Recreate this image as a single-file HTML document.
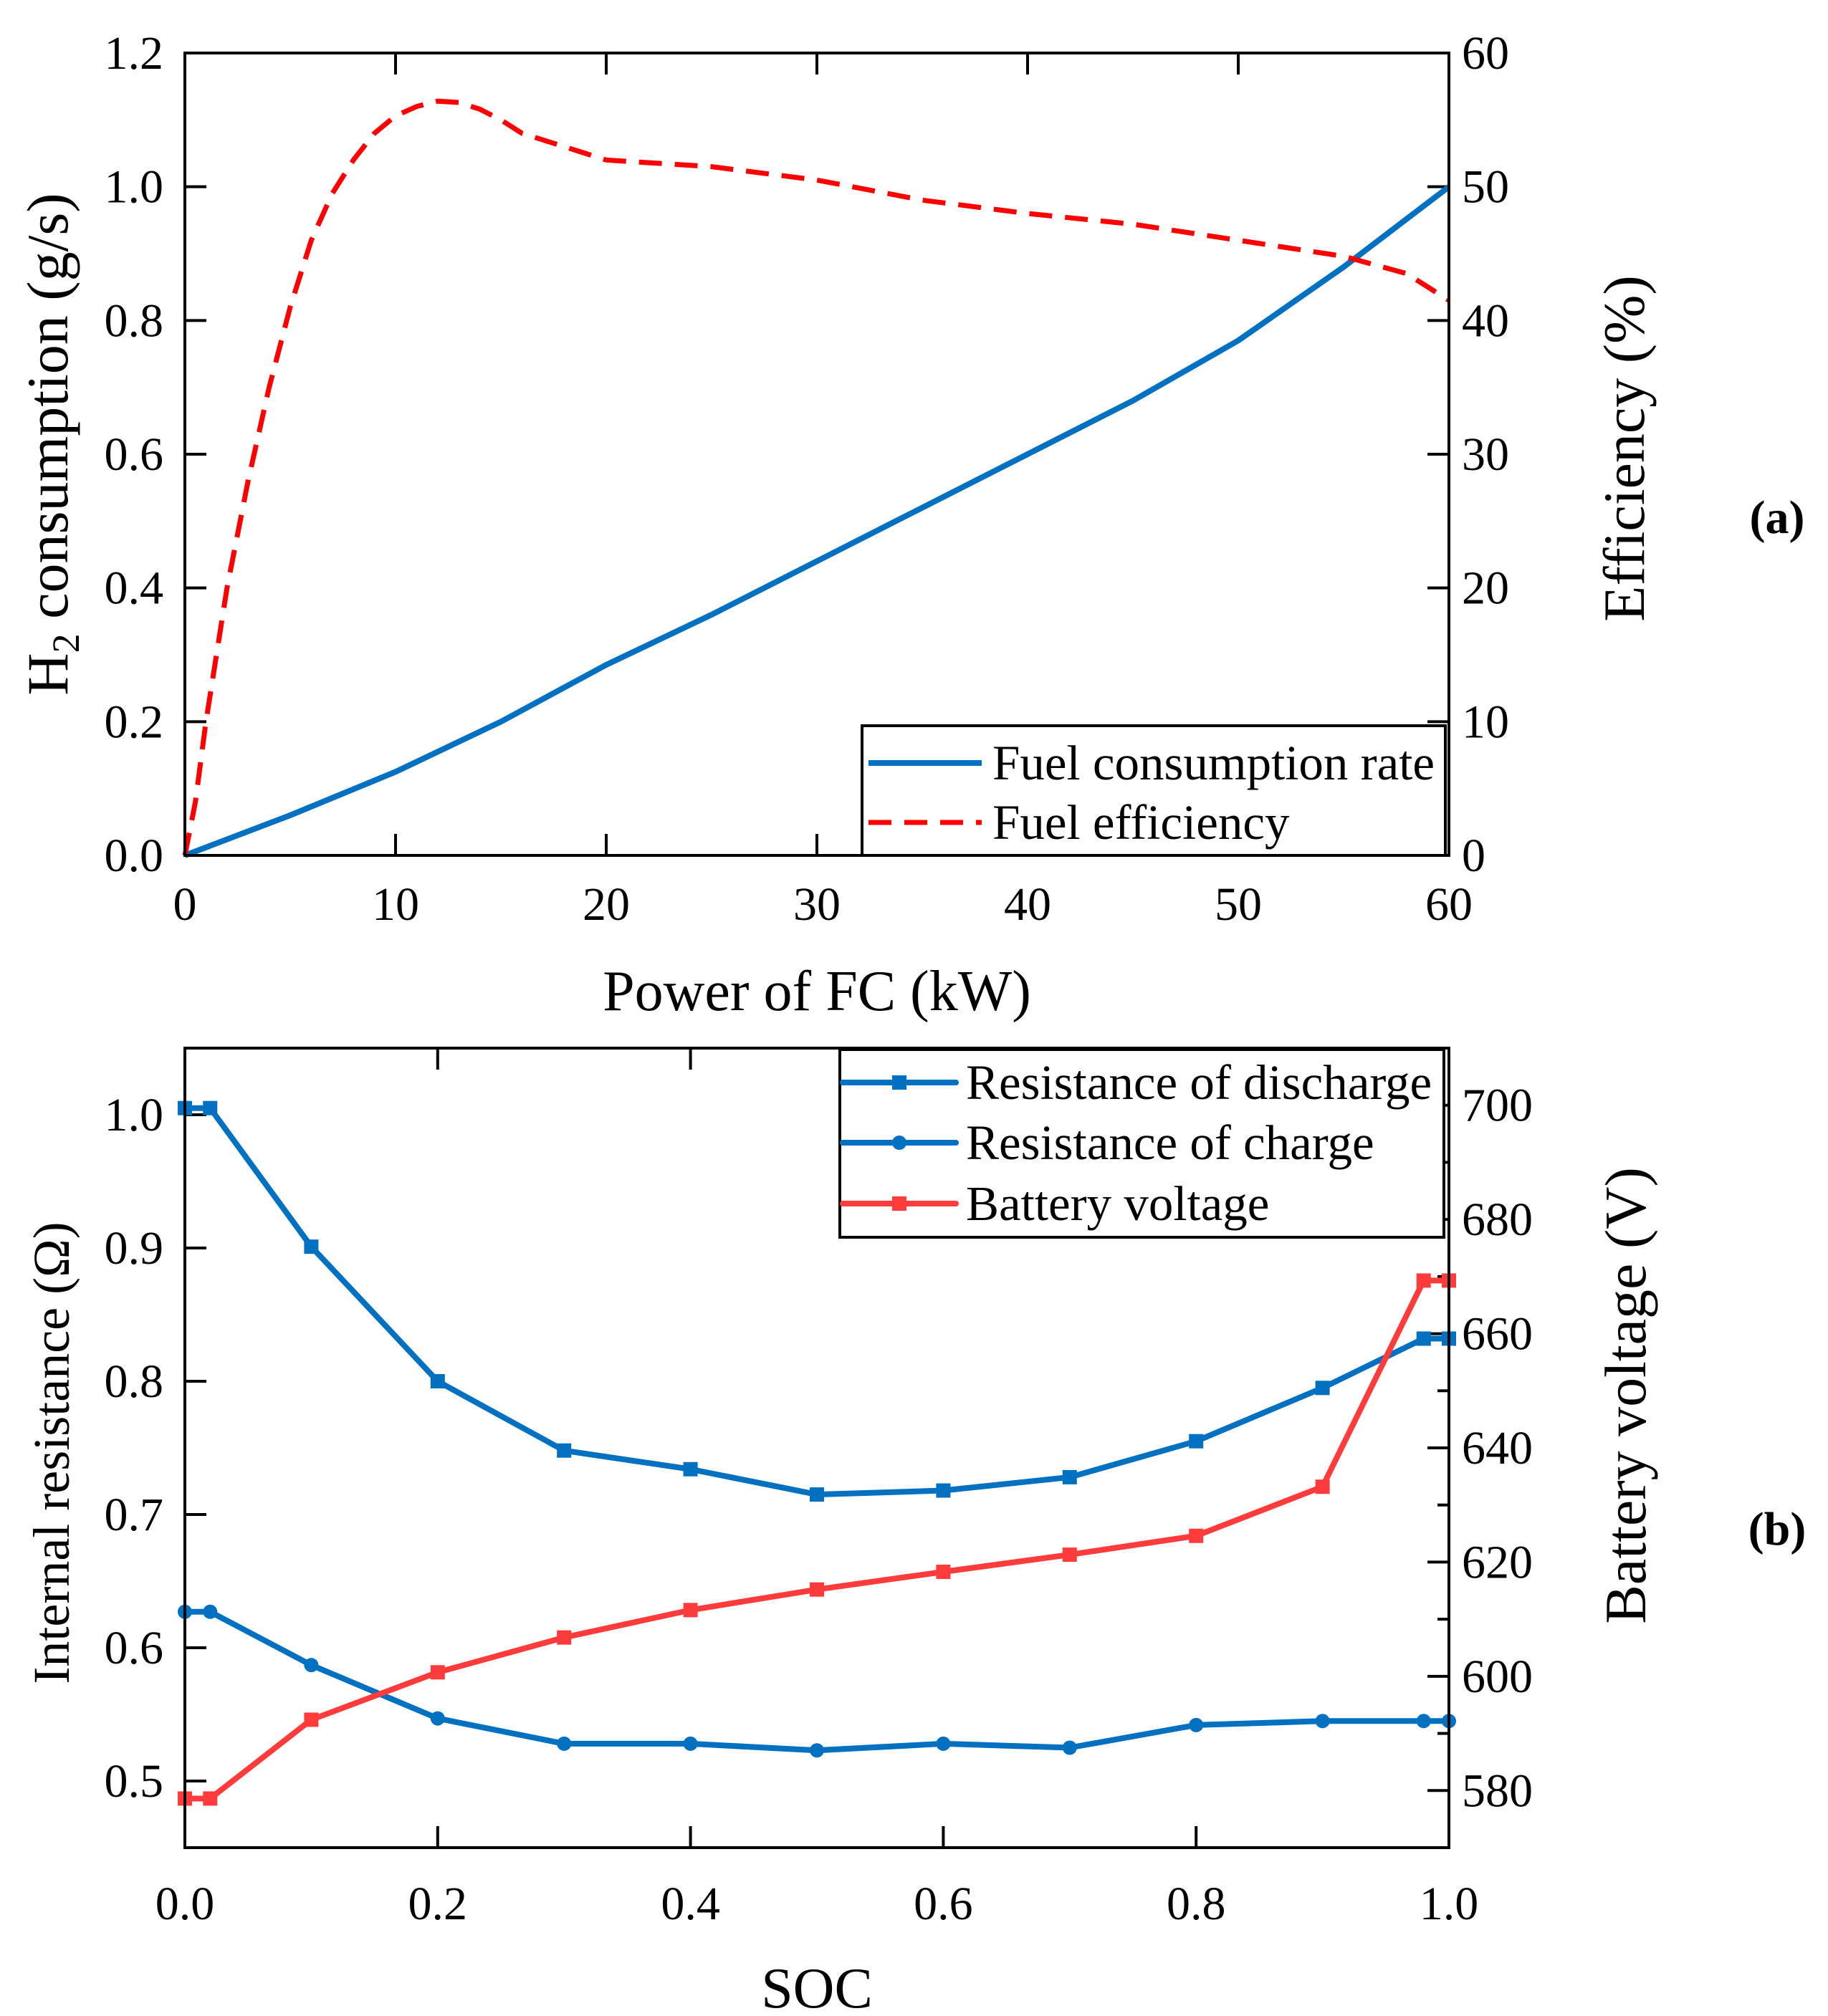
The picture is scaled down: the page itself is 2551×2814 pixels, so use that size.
<!DOCTYPE html>
<html><head><meta charset="utf-8">
<style>
html,body{margin:0;padding:0;background:#fff;}
svg{display:block;font-family:"Liberation Serif",serif;}
</style></head>
<body>
<svg id="fig" width="2551" height="2814" viewBox="0 0 2551 2814" xmlns="http://www.w3.org/2000/svg"></svg>
<script>
// ---- Panel (a) data ----
const powerKW = [0,5,10,15,20,25,30,35,40,45,50,55,60];
const h2Consumption = [0,0.06,0.125,0.2,0.285,0.36,0.44,0.52,0.6,0.68,0.77,0.88,1.0];
const effPower = [0,0.5,1,2,3,4,5,6,7,8,9,10,11,12,13,14,15,16,17,18,19,20,25,30,35,40,45,50,55,58,60];
const efficiency = [0,4,10,20,28,35,41,46,49.5,52,54,55.3,56,56.4,56.3,55.8,55,54,53.5,53,52.5,52,51.5,50.5,49,48,47.2,46,44.8,43.5,41.5];
const aXTicks = [0,10,20,30,40,50,60];
const aLeftTicks = [0,0.2,0.4,0.6,0.8,1.0,1.2];
const aRightTicks = [0,10,20,30,40,50,60];
// ---- Panel (b) data ----
const soc = [0,0.02,0.1,0.2,0.3,0.4,0.5,0.6,0.7,0.8,0.9,0.98,1.0];
const rDischarge = [1.005,1.005,0.901,0.800,0.748,0.734,0.715,0.718,0.728,0.755,0.795,0.832,0.832];
const rCharge = [0.627,0.627,0.587,0.547,0.528,0.528,0.523,0.528,0.525,0.542,0.545,0.545,0.545];
const voltage = [578.6,578.6,592.4,600.7,606.8,611.6,615.2,618.3,621.3,624.6,633.2,669.3,669.3];
const bXTicks = [0,0.2,0.4,0.6,0.8,1.0];
const bLeftTicks = [0.5,0.6,0.7,0.8,0.9,1.0];
const bRightTicks = [580,600,620,640,660,680,700];

const NS="http://www.w3.org/2000/svg";
const svg=document.getElementById('fig');
function mk(tag,attrs,parent){const e=document.createElementNS(NS,tag);for(const k in attrs)e.setAttribute(k,attrs[k]);(parent||svg).appendChild(e);return e;}
function txt(str,attrs,parent){const e=mk('text',attrs,parent);e.textContent=str;return e;}
function lin(d0,d1,r0,r1){return v=>r0+(v-d0)/(d1-d0)*(r1-r0);}

const L=258,R=2022;
const BLUE="#0070C0";
const LW=8;

// ===== Panel (a) =====
const aT=74,aB=1194;
const ax=lin(0,60,L,R), ayL=lin(0,1.2,aB,aT), ayR=lin(0,60,aB,aT);
const gA=mk('g',{});


aXTicks.forEach(v=>{const X=ax(v);
 mk('line',{x1:X,y1:aB,x2:X,y2:aB-30,stroke:'#000','stroke-width':4},gA);
 mk('line',{x1:X,y1:aT,x2:X,y2:aT+30,stroke:'#000','stroke-width':4},gA);
 const t=txt(String(v),{x:X,y:1284,'font-size':66,'text-anchor':'middle'},gA);
 });
aLeftTicks.forEach(v=>{const Y=ayL(v);
 mk('line',{x1:L,y1:Y,x2:L+30,y2:Y,stroke:'#000','stroke-width':4},gA);
 const t=txt(v.toFixed(1),{x:228,y:Y+22,'font-size':66,'text-anchor':'end'},gA);
 });
aRightTicks.forEach(v=>{const Y=ayR(v);
 mk('line',{x1:R-30,y1:Y,x2:R,y2:Y,stroke:'#000','stroke-width':4},gA);
 const t=txt(String(v),{x:2040,y:Y+22,'font-size':66,'text-anchor':'start'},gA);
 });
let p=mk('polyline',{points:powerKW.map((v,i)=>ax(v)+','+ayL(h2Consumption[i])).join(' '),fill:'none',stroke:BLUE,'stroke-width':LW,'stroke-linejoin':'round'},gA);

p=mk('polyline',{points:effPower.map((v,i)=>ax(v)+','+ayR(efficiency[i])).join(' '),fill:'none',stroke:'#FF0000','stroke-width':7,'stroke-dasharray':'32,18'},gA);

let fr=mk('rect',{x:L,y:aT,width:R-L,height:aB-aT,fill:'none',stroke:'#000','stroke-width':4},gA);

const lgA=mk('g',{},gA);

mk('rect',{x:1203,y:1013,width:814,height:181,fill:'#fff',stroke:'#000','stroke-width':4},lgA);
mk('line',{x1:1212,y1:1065,x2:1370,y2:1065,stroke:BLUE,'stroke-width':LW},lgA);
txt('Fuel consumption rate',{x:1385,y:1088,'font-size':69},lgA);
mk('line',{x1:1212,y1:1148,x2:1370,y2:1148,stroke:'#FF0000','stroke-width':7,'stroke-dasharray':'32,18'},lgA);
txt('Fuel efficiency',{x:1385,y:1171,'font-size':69},lgA);
let t=txt('Power of FC (kW)',{x:1140,y:1410,'font-size':80,'text-anchor':'middle'},gA);

t=mk('text',{transform:'translate(94,620) rotate(-90)','font-size':82,'text-anchor':'middle'},gA);
t.innerHTML='H<tspan font-size="54" dy="16">2</tspan><tspan dy="-16"> consumption (g/s)</tspan>';

t=txt('Efficiency (%)',{transform:'translate(2294,626) rotate(-90)','font-size':82,'text-anchor':'middle'},gA);

t=txt('(a)',{x:2480,y:744,'font-size':66,'text-anchor':'middle','font-weight':'bold'},gA);


// ===== Panel (b) =====
const bT=1463,bB=2579;
const bx=lin(0,1,L,R), byL=lin(0.45,1.05,bB,bT), byR=lin(570,710,bB,bT);
const gB=mk('g',{});


bXTicks.forEach(v=>{const X=bx(v);
 mk('line',{x1:X,y1:bB,x2:X,y2:bB-30,stroke:'#000','stroke-width':4},gB);
 mk('line',{x1:X,y1:bT,x2:X,y2:bT+30,stroke:'#000','stroke-width':4},gB);
 const t=txt(v.toFixed(1),{x:X,y:2679,'font-size':66,'text-anchor':'middle'},gB);
 });
bLeftTicks.forEach(v=>{const Y=byL(v);
 mk('line',{x1:L,y1:Y,x2:L+30,y2:Y,stroke:'#000','stroke-width':4},gB);
 const t=txt(v.toFixed(1),{x:228,y:Y+22,'font-size':66,'text-anchor':'end'},gB);
 });
bRightTicks.forEach(v=>{const Y=byR(v);
 mk('line',{x1:R-30,y1:Y,x2:R,y2:Y,stroke:'#000','stroke-width':4},gB);
 mk('line',{x1:R-16,y1:byR(v+10),x2:R,y2:byR(v+10),stroke:'#000','stroke-width':4},gB);
 const t=txt(String(v),{x:2040,y:Y+22,'font-size':66,'text-anchor':'start'},gB);
 });
function series(xs,ys,fx,fy,color,marker,name){
 const g=mk('g',{},gB);
 
 mk('polyline',{points:xs.map((v,i)=>fx(v)+','+fy(ys[i])).join(' '),fill:'none',stroke:color,'stroke-width':LW,'stroke-linejoin':'round'},g);
 xs.forEach((v,i)=>{const X=fx(v),Y=fy(ys[i]);
  if(marker==='sq')mk('rect',{x:X-10,y:Y-10,width:20,height:20,fill:color},g);
  else mk('circle',{cx:X,cy:Y,r:10,fill:color},g);});
}
series(soc,rDischarge,bx,byL,BLUE,'sq','discharge-resistance-series');
series(soc,rCharge,bx,byL,BLUE,'ci','charge-resistance-series');
series(soc,voltage,bx,byR,'#FF3B3B','sq','battery-voltage-series');
fr=mk('rect',{x:L,y:bT,width:R-L,height:bB-bT,fill:'none',stroke:'#000','stroke-width':4},gB);

const lgB=mk('g',{},gB);

mk('rect',{x:1172,y:1465,width:843,height:262,fill:'#fff',stroke:'#000','stroke-width':4},lgB);
[['Resistance of discharge',BLUE,'sq',1511],['Resistance of charge',BLUE,'ci',1595],['Battery voltage','#FF3B3B','sq',1680]].forEach(e=>{
 mk('line',{x1:1176,y1:e[3],x2:1334,y2:e[3],stroke:e[1],'stroke-width':LW,'stroke-linecap':'round'},lgB);
 if(e[2]==='sq')mk('rect',{x:1245,y:e[3]-10,width:20,height:20,fill:e[1]},lgB);
 else mk('circle',{cx:1255,cy:e[3],r:10,fill:e[1]},lgB);
 txt(e[0],{x:1348,y:e[3]+23,'font-size':69},lgB);});
t=txt('SOC',{x:1140,y:2802,'font-size':80,'text-anchor':'middle'},gB);

t=txt('Internal resistance (Ω)',{transform:'translate(96,2028) rotate(-90)','font-size':72,'text-anchor':'middle'},gB);

t=txt('Battery voltage (V)',{transform:'translate(2296,1948) rotate(-90)','font-size':82,'text-anchor':'middle'},gB);

t=txt('(b)',{x:2480,y:2156,'font-size':66,'text-anchor':'middle','font-weight':'bold'},gB);

</script>
</body></html>
